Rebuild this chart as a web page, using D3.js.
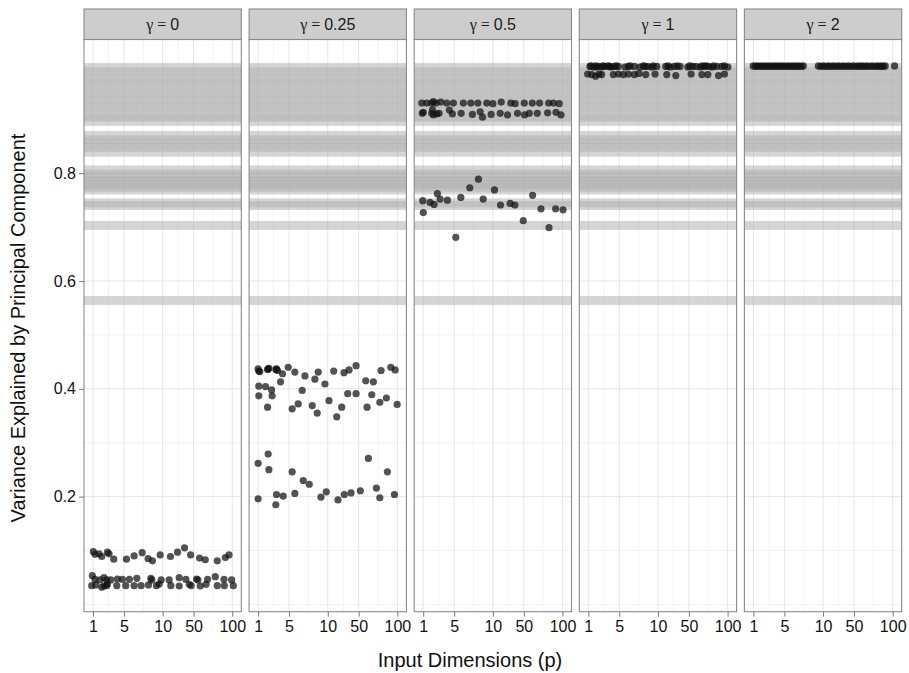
<!DOCTYPE html>
<html>
<head>
<meta charset="utf-8">
<script src="https://cdn.jsdelivr.net/npm/d3@7"></script>
<style>
  html, body { margin: 0; padding: 0; background: #fff; }
  svg { display: block; }
</style>
</head>
<body>
<svg id="chart" width="909" height="673"></svg>
<script>
// Facet labels (shape parameter of each panel)
const gammaLabels = ["0", "0.25", "0.5", "1", "2"];

// Input dimensions, placed at equally spaced positions 1..19
const pValues = [1, 2, 3, 4, 5, 6, 7, 8, 9, 10, 20, 30, 40, 50, 60, 70, 80, 90, 100];
const xTickLabels = ["1", "5", "10", "50", "100"];
const yTicks = [0.2, 0.4, 0.6, 0.8];
const yMinorGrid = [0.0, 0.1, 0.3, 0.5, 0.7, 0.9, 1.0];

// Reference levels: variance explained by the first component in observed data sets
const referenceLevels = [
  0.996, 0.988, 0.979, 0.971, 0.963, 0.954, 0.946, 0.937, 0.929, 0.921, 0.912, 0.904, 0.896,
  0.870, 0.862, 0.855, 0.848, 0.839,
  0.806, 0.798, 0.792, 0.786, 0.780, 0.774, 0.769,
  0.745, 0.740,
  0.703,
  0.564
];

// Simulated runs: [position along the p axis (jittered), variance explained]
const runsGamma0 = [
  [1.04,0.098],[1.26,0.093],[1.78,0.094],[2.13,0.089],[2.86,0.097],[3.07,0.094],[3.68,0.084],
  [5.32,0.084],[6.31,0.090],[7.35,0.096],[8.12,0.085],[8.68,0.081],[9.68,0.092],[11.01,0.089],
  [11.92,0.097],[12.83,0.105],[13.61,0.092],[14.77,0.086],[15.51,0.083],[17.06,0.081],[18.10,0.087],[18.58,0.092],
  [0.91,0.0535],[1.26,0.0467],[1.91,0.0455],[2.42,0.0498],[2.77,0.0455],[3.29,0.0455],[4.15,0.0473],
  [4.80,0.0467],[5.70,0.0467],[6.66,0.0486],[8.47,0.0486],[8.60,0.0455],[9.81,0.0455],[10.84,0.0455],
  [12.14,0.0498],[13.00,0.0467],[14.38,0.0473],[14.56,0.0455],[15.81,0.0467],[16.80,0.0516],[17.93,0.0467],[18.92,0.0455],
  [0.83,0.0349],[1.35,0.0362],[2.13,0.0319],[2.42,0.0343],[2.77,0.0349],[2.86,0.0380],[4.07,0.0349],
  [5.23,0.0349],[6.31,0.0349],[7.22,0.0349],[8.17,0.0362],[9.20,0.0349],[9.55,0.0380],[11.06,0.0349],
  [12.14,0.0343],[13.44,0.0375],[13.69,0.0349],[14.86,0.0343],[15.60,0.0375],[17.06,0.0349],[17.97,0.0349],[19.13,0.0349]
];

const runsGamma025 = [
  [1.00,0.437],[1.09,0.433],[1.22,0.432],[2.30,0.437],[2.22,0.436],[2.39,0.438],[3.38,0.437],[3.29,0.436],
  [3.51,0.434],[4.16,0.428],[3.90,0.413],[4.89,0.440],[5.75,0.431],[7.05,0.424],[8.34,0.418],[8.77,0.431],
  [9.64,0.409],[10.77,0.433],[12.10,0.430],[12.75,0.435],[13.66,0.443],[14.91,0.415],[15.90,0.413],
  [16.89,0.434],[18.15,0.440],[18.71,0.435],
  [1.09,0.405],[1.96,0.404],[2.74,0.398],[1.09,0.387],[2.81,0.387],[2.22,0.366],[6.70,0.397],[5.40,0.363],
  [6.18,0.372],[8.00,0.369],[8.64,0.355],[10.16,0.378],[11.16,0.348],[11.80,0.366],[12.58,0.391],
  [13.66,0.391],[15.08,0.366],[15.69,0.389],[16.73,0.375],[17.58,0.383],[18.97,0.371],
  [1.00,0.262],[2.30,0.279],[2.39,0.250],[5.40,0.246],[6.83,0.230],[7.61,0.223],[15.25,0.271],[17.71,0.246],
  [1.00,0.196],[3.38,0.204],[3.29,0.185],[4.24,0.201],[5.75,0.206],[9.12,0.199],[9.81,0.209],[11.32,0.194],
  [12.14,0.204],[13.01,0.207],[14.21,0.211],[16.29,0.216],[16.73,0.198],[18.62,0.204]
];

const runsGamma05 = [
  [0.81,0.930],[1.45,0.930],[2.10,0.930],[2.31,0.933],[2.66,0.930],[3.27,0.932],[4.04,0.930],[4.90,0.930],
  [6.19,0.930],[7.15,0.930],[8.06,0.930],[9.22,0.930],[10.00,0.929],[11.08,0.932],[12.33,0.930],[12.89,0.929],
  [14.06,0.930],[15.10,0.930],[16.04,0.930],[17.21,0.930],[17.85,0.930],[18.58,0.929],
  [0.88,0.911],[1.01,0.913],[2.10,0.911],[2.31,0.908],[2.20,0.918],[2.75,0.910],[3.05,0.911],[4.38,0.917],
  [4.77,0.910],[5.90,0.911],[7.36,0.909],[8.36,0.914],[8.66,0.904],[9.78,0.909],[10.95,0.911],[11.90,0.908],
  [13.19,0.911],[14.10,0.908],[14.71,0.911],[15.74,0.911],[17.08,0.912],[18.16,0.913],[18.80,0.908],
  [0.94,0.749],[1.01,0.727],[1.88,0.746],[2.40,0.742],[2.83,0.762],[3.18,0.752],[4.12,0.750],[5.21,0.681],
  [5.86,0.755],[7.02,0.773],[8.14,0.789],[8.75,0.752],[10.21,0.769],[10.99,0.741],[12.24,0.744],[12.85,0.741],
  [13.93,0.712],[15.14,0.759],[16.22,0.734],[17.26,0.699],[18.11,0.734],[19.07,0.732]
];

const runsGamma1 = [
  [1.21,0.998],[1.64,0.997],[1.94,0.999],[2.37,0.998],[2.72,0.997],[3.15,0.998],[3.58,0.999],[3.93,0.997],
  [4.36,0.998],[4.87,0.998],[5.74,0.997],[6.17,0.998],[6.95,0.998],[7.68,0.997],[8.33,0.998],[8.68,0.998],
  [9.20,0.997],[9.84,0.998],[11.01,0.998],[11.57,0.997],[12.13,0.998],[12.86,0.998],[13.86,0.997],[14.46,0.998],
  [14.90,0.998],[15.46,0.997],[15.97,0.998],[16.53,0.998],[16.97,0.997],[17.62,0.998],[18.26,0.998],[19.04,0.997],
  [1.35,0.999],[2.05,0.997],[2.90,0.999],[3.75,0.998],[4.60,0.999],[6.40,0.999],[8.10,0.999],[9.40,0.999],
  [11.30,0.999],[12.50,0.999],[14.10,0.999],[15.70,0.999],[16.20,0.999],[17.20,0.999],[18.60,0.999],
  [0.91,0.984],[1.43,0.983],[1.94,0.980],[2.37,0.984],[2.72,0.983],[4.23,0.983],[4.87,0.984],[5.52,0.983],
  [6.17,0.984],[6.95,0.983],[7.55,0.985],[8.42,0.983],[9.63,0.984],[11.14,0.983],[12.31,0.981],[14.29,0.984],
  [15.68,0.983],[16.45,0.983],[17.83,0.981],[18.60,0.984]
];

const runsGamma2 = [
  [0.97,0.999],[1.54,0.999],[2.06,0.999],[2.58,0.999],[3.14,0.999],[3.70,0.999],[4.22,0.999],[4.73,0.999],
  [5.30,0.999],[5.86,0.999],[6.38,0.999],[6.89,0.999],[7.45,0.999],[9.39,0.999],[10.04,0.999],[10.69,0.999],
  [11.33,0.999],[11.98,0.999],[12.63,0.999],[13.28,0.999],[13.93,0.999],[14.57,0.999],[15.09,0.999],
  [15.66,0.999],[16.31,0.999],[16.95,0.999],[17.51,0.999],[18.03,0.999],[19.24,0.999],
  [1.25,0.998],[1.80,0.998],[2.32,0.998],[2.86,0.998],[3.42,0.998],[3.96,0.998],[4.48,0.998],[5.02,0.998],
  [5.58,0.998],[6.12,0.998],[6.64,0.998],[7.20,0.998],[9.70,0.998],[10.36,0.998],[11.00,0.998],[11.65,0.998],
  [12.30,0.998],[12.95,0.998],[13.60,0.998],[14.25,0.998],[14.83,0.998],[15.38,0.998],[15.98,0.998],
  [16.63,0.998],[17.23,0.998],[17.77,0.998]
];

const panelRuns = [runsGamma0, runsGamma025, runsGamma05, runsGamma1, runsGamma2];

// ---- layout ----
const svg = d3.select("#chart");
const panelLeft = 84, panelStep = 165.1, panelW = 157.3;
const panelTop = 39.5, panelBottom = 611.7;
const stripTop = 9;

const x = d3.scaleLinear().domain([-0.166, 20.166]).range([0, panelW]);
const y = d3.scaleLinear().domain([-0.0134, 1.048]).range([panelBottom, panelTop]);

// index positions of the labelled p values, and minor breaks halfway between them
const xTickPos = xTickLabels.map(l => pValues.indexOf(+l) + 1);
const xMinorPos = d3.pairs(xTickPos).map(([a, b]) => (a + b) / 2);

const bandHalf = 4.5;

gammaLabels.forEach((g, i) => {
  const left = panelLeft + i * panelStep;
  const p = svg.append("g").attr("transform", `translate(${left},0)`);

  // background
  p.append("rect").attr("x", 0).attr("y", panelTop)
    .attr("width", panelW).attr("height", panelBottom - panelTop).attr("fill", "#fff");

  // grid
  p.selectAll(".gyMinor").data(yMinorGrid).join("line")
    .attr("x1", 0).attr("x2", panelW).attr("y1", d => y(d)).attr("y2", d => y(d))
    .attr("stroke", "#f3f3f3").attr("stroke-width", 1);
  p.selectAll(".gxMinor").data(xMinorPos).join("line")
    .attr("x1", d => x(d)).attr("x2", d => x(d)).attr("y1", panelTop).attr("y2", panelBottom)
    .attr("stroke", "#f3f3f3").attr("stroke-width", 1);
  p.selectAll(".gyMajor").data(yTicks).join("line")
    .attr("x1", 0).attr("x2", panelW).attr("y1", d => y(d)).attr("y2", d => y(d))
    .attr("stroke", "#e6e6e6").attr("stroke-width", 1);
  p.selectAll(".gxMajor").data(xTickPos).join("line")
    .attr("x1", d => x(d)).attr("x2", d => x(d)).attr("y1", panelTop).attr("y2", panelBottom)
    .attr("stroke", "#e6e6e6").attr("stroke-width", 1);

  // reference bands
  p.append("g").selectAll("rect").data(referenceLevels).join("rect")
    .attr("x", 0).attr("width", panelW)
    .attr("y", d => y(d) - bandHalf).attr("height", bandHalf * 2)
    .attr("fill", "#afafaf").attr("fill-opacity", 0.52);

  // simulated runs
  p.append("g").selectAll("circle").data(panelRuns[i]).join("circle")
    .attr("cx", d => x(d[0])).attr("cy", d => y(d[1])).attr("r", 3.6)
    .attr("fill", "#111").attr("fill-opacity", 0.72);

  // panel border
  p.append("rect").attr("x", 0).attr("y", panelTop)
    .attr("width", panelW).attr("height", panelBottom - panelTop)
    .attr("fill", "none").attr("stroke", "#8a8a8a").attr("stroke-width", 1.1);

  // strip
  p.append("rect").attr("x", 0).attr("y", stripTop)
    .attr("width", panelW).attr("height", panelTop - stripTop)
    .attr("fill", "#cdcdcd").attr("stroke", "#8a8a8a").attr("stroke-width", 1.1);
  const st = p.append("text").attr("x", panelW / 2).attr("y", 30)
    .attr("text-anchor", "middle").attr("fill", "#1a1a1a");
  st.append("tspan").attr("font-family", "'Liberation Serif', 'DejaVu Serif', serif")
    .attr("font-size", 16).text("γ = ");
  st.append("tspan").attr("font-family", "'Liberation Sans', Arial, sans-serif")
    .attr("font-size", 16).text(g);

  // x axis
  const xa = p.append("g").attr("transform", `translate(0,${panelBottom})`)
    .call(d3.axisBottom(x).tickValues(xTickPos).tickFormat((d, k) => xTickLabels[k])
      .tickSize(5).tickPadding(4));
  xa.select(".domain").remove();
  xa.selectAll(".tick line").attr("stroke", "#7a7a7a");
  xa.selectAll(".tick text").attr("font-family", "'Liberation Sans', Arial, sans-serif")
    .attr("font-size", 16).attr("fill", "#111");
});

// y axis on the first panel
const ya = svg.append("g").attr("transform", `translate(${panelLeft},0)`)
  .call(d3.axisLeft(y).tickValues(yTicks).tickFormat(d3.format(".1f")).tickSize(5).tickPadding(3));
ya.select(".domain").remove();
ya.selectAll(".tick line").attr("stroke", "#7a7a7a");
ya.selectAll(".tick text").attr("font-family", "'Liberation Sans', Arial, sans-serif")
  .attr("font-size", 16).attr("fill", "#111");

// axis titles
svg.append("text").attr("x", 470).attr("y", 667).attr("text-anchor", "middle")
  .attr("font-family", "'Liberation Sans', Arial, sans-serif").attr("font-size", 20)
  .attr("fill", "#111").text("Input Dimensions (p)");
svg.append("text").attr("transform", "translate(25,328) rotate(-90)").attr("text-anchor", "middle")
  .attr("font-family", "'Liberation Sans', Arial, sans-serif").attr("font-size", 20)
  .attr("fill", "#111").text("Variance Explained by Principal Component");
</script>
</body>
</html>
